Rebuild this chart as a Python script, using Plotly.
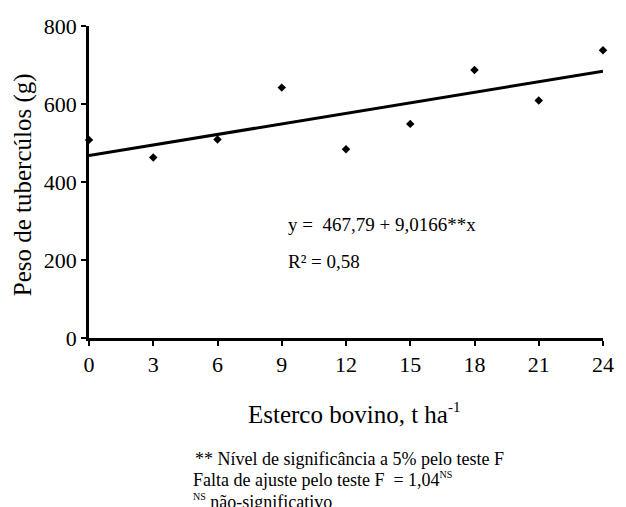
import plotly.graph_objects as go

doses = [0, 3, 6, 9, 12, 15, 18, 21, 24]
peso = [508, 463, 509, 642, 484, 549, 687, 609, 738]
intercept = 467.79
slope = 9.0166
fit_x = [0, 24]
fit_y = [intercept + slope * v for v in fit_x]
x_ticks = [0, 3, 6, 9, 12, 15, 18, 21, 24]
y_ticks = [0, 200, 400, 600, 800]

FONT = "Liberation Serif"

fig = go.Figure()
fig.add_trace(go.Scatter(x=fit_x, y=fit_y, mode="lines",
                         line=dict(color="black", width=3), showlegend=False,
                         cliponaxis=False))
fig.add_trace(go.Scatter(x=doses, y=peso, mode="markers",
                         marker=dict(symbol="diamond", size=6.5, color="black"),
                         showlegend=False, cliponaxis=False))

fig.update_layout(
    width=626, height=507,
    margin=dict(l=89, r=13, t=26, b=169),
    paper_bgcolor="white", plot_bgcolor="white",
    font=dict(family=FONT, color="black", size=16),
    xaxis=dict(range=[0, 24], tickvals=x_ticks, ticks="outside", ticklen=5,
               tickwidth=1.5, tickcolor="black", showline=True, linecolor="black",
               linewidth=2.5, showgrid=False, zeroline=False,
               tickfont=dict(size=22, family=FONT, color="black")),
    yaxis=dict(range=[0, 800], tickvals=y_ticks, ticks="outside", ticklen=5,
               tickwidth=1.5, tickcolor="black", showline=True, linecolor="black",
               linewidth=2.5, showgrid=False, zeroline=False,
               tickfont=dict(size=22, family=FONT, color="black")),
)

def py(p):
    return (338 - p) / 312.0

def px(p):
    return (p - 89) / 524.0

def sup(s, size):
    return "<sup><span style='font-size:%dpx'>%s</span></sup>" % (size, s)

annos = [
    dict(x=9.2, y=290, xref="x", yref="y", text="y =  467,79 + 9,0166**x",
         xanchor="left", yanchor="middle", size=19),
    dict(x=9.2, y=195, xref="x", yref="y", text="R² = 0,58",
         xanchor="left", yanchor="middle", size=19),
    dict(x=px(359), y=py(413), xref="paper", yref="paper",
         text="Esterco bovino, t ha" + sup("-1", 15), xanchor="center",
         yanchor="middle", size=25),
    dict(x=px(22), y=py(185), xref="paper", yref="paper",
         text="Peso de tubercúlos (g)", textangle=-90, xanchor="center", yanchor="middle",
         size=25),
    dict(x=px(195), y=py(459), xref="paper", yref="paper",
         text="** Nível de significância a 5% pelo teste F", xanchor="left", yanchor="middle",
         size=18),
    dict(x=px(193), y=py(479), xref="paper", yref="paper",
         text="Falta de ajuste pelo teste F  = 1,04" + sup("NS", 10),
         xanchor="left", yanchor="middle", size=18),
    dict(x=px(193), y=py(501), xref="paper", yref="paper",
         text=sup("NS", 10) + " não-significativo", xanchor="left",
         yanchor="middle", size=18),
]
for a in annos:
    s = a.pop("size")
    a["font"] = dict(size=s, family=FONT, color="black")
    a["showarrow"] = False
    fig.add_annotation(**a)

fig.write_html("out.html")
